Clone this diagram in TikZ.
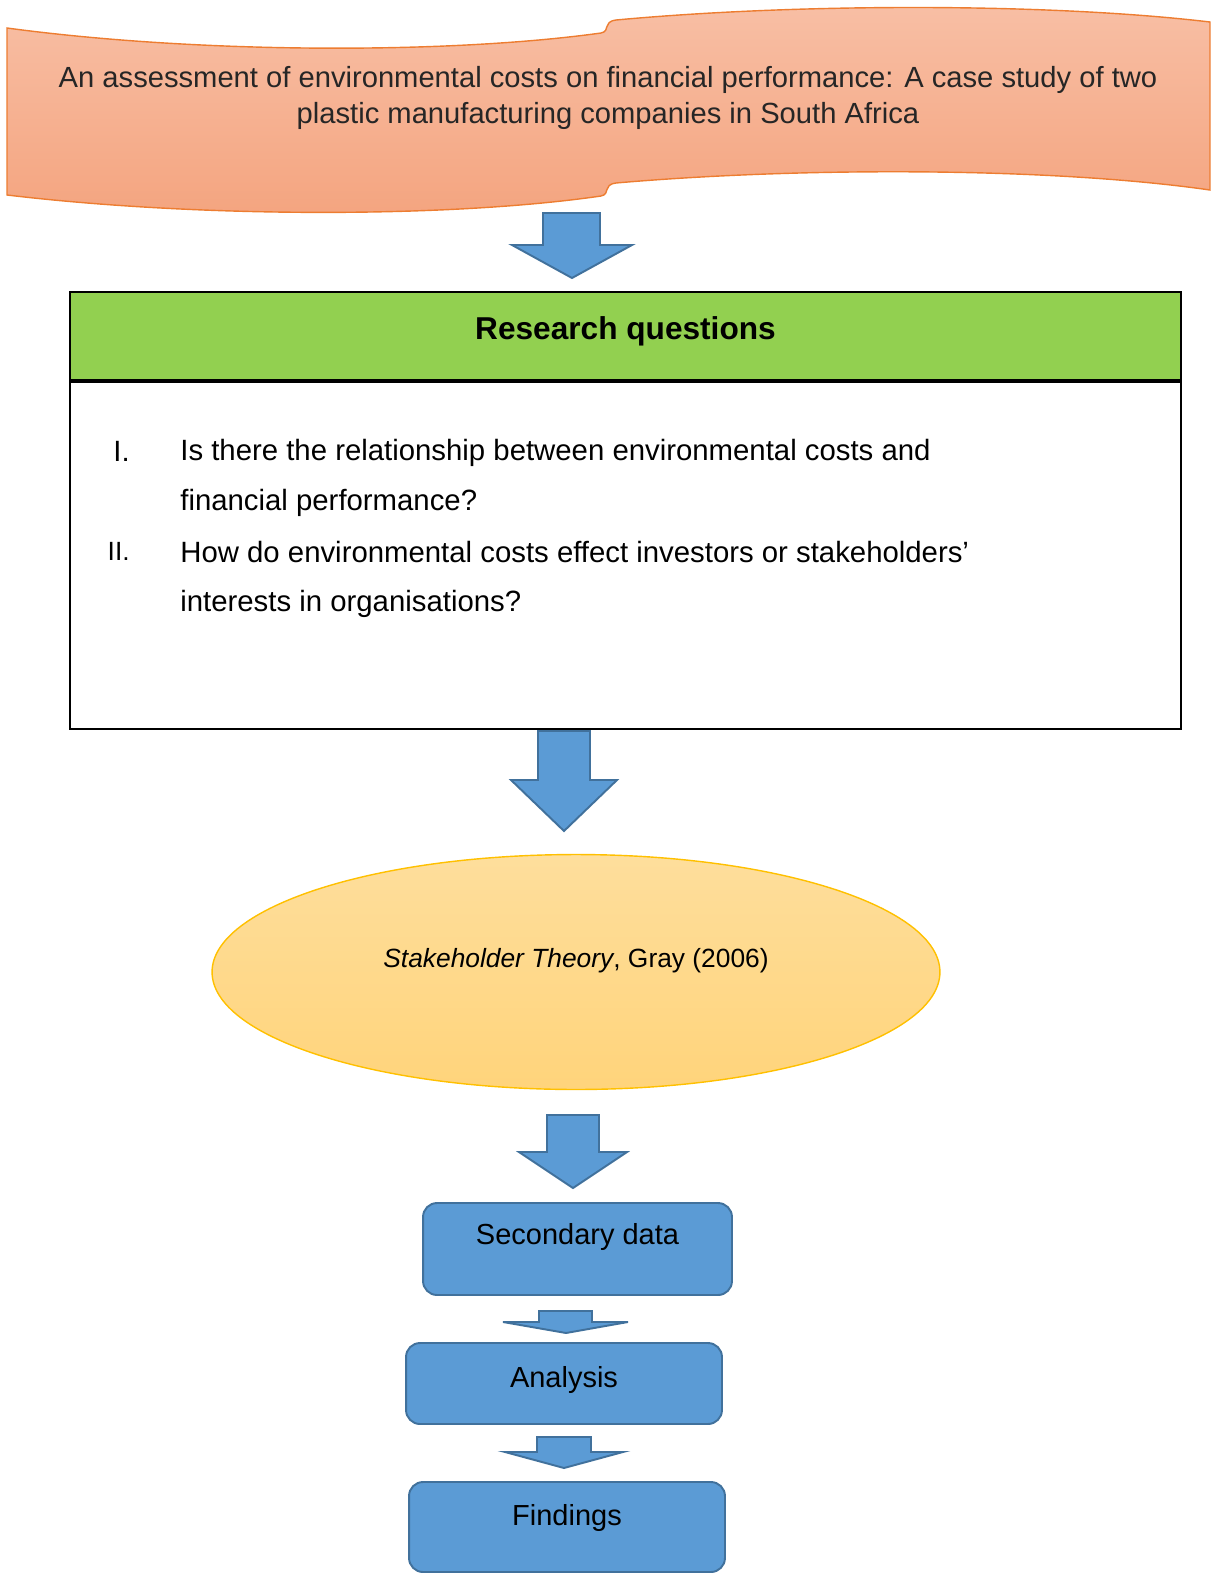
\documentclass[tikz,border=0pt]{standalone}
\usepackage{fontspec}
\setmainfont{Liberation Sans}
\usetikzlibrary{shapes.geometric}
\definecolor{bannertop}{HTML}{F8BFA5}
\definecolor{bannerbot}{HTML}{F4A47F}
\definecolor{bannerline}{HTML}{ED7D31}
\definecolor{bannertext}{HTML}{262626}
\definecolor{rqgreen}{HTML}{92D050}
\definecolor{elltop}{HTML}{FEDE9C}
\definecolor{ellbot}{HTML}{FFD47B}
\definecolor{ellline}{HTML}{FFC000}
\definecolor{boxblue}{HTML}{5B9BD5}
\definecolor{arrowline}{HTML}{41719C}
\begin{document}
\begin{tikzpicture}[x=0.02cm,y=-0.02cm,
  blockarrow/.style={draw=arrowline, fill=boxblue, line width=1.1pt},
  bluebox/.style={draw=arrowline, fill=boxblue, line width=1.1pt, rounded corners=0.28cm,
    font=\fontsize{16.5}{19}\selectfont, text height=12pt},
  qtext/.style={font=\fontsize{16.7}{28}\selectfont, align=left, inner xsep=0pt}]
\useasboundingbox (0,0) rectangle (1218,1573);
\draw[draw=bannerline, line width=0.8pt, top color=bannertop, bottom color=bannerbot]
  (7,28) .. controls (200,54) and (450,54) .. (601,33)
  .. controls (611,31) and (602,22) .. (616,20)
  .. controls (800,3) and (1050,3) .. (1210,22) -- (1210,190)
  .. controls (1050,167) and (800,167) .. (616,183)
  .. controls (602,185) and (611,194) .. (601,196)
  .. controls (450,218) and (200,218) .. (7,195) -- cycle;
\node[font=\fontsize{16.6}{20}\selectfont, text=bannertext, align=center] (title) at (608,98)
  {An assessment of environmental costs on financial performance: A case study of two\\
   plastic manufacturing companies in South Africa};
\node[draw, line width=1.1pt, fill=rqgreen, minimum width=22.22cm, minimum height=1.76cm,
  font=\bfseries\fontsize{18}{22}\selectfont, text height=13pt, text depth=9pt] (rqhead) at (625.5,336) {Research questions};
\node[draw, line width=1.1pt, minimum width=22.22cm, minimum height=6.94cm, anchor=north] (rqbody) at (rqhead.south) {};
\node[qtext, anchor=east] (num1) at (130,451) {I.};
\node[qtext, anchor=west] (quest1) at (180,478) {Is there the relationship between environmental costs and\\financial performance?};
\node[qtext, anchor=east, font=\fontsize{15}{28}\selectfont] (num2) at (130,551) {II.};
\node[qtext, anchor=west] (quest2) at (180,579) {How do environmental costs effect investors or stakeholders’\\interests in organisations?};
\node[ellipse, draw=ellline, line width=0.8pt, top color=elltop, bottom color=ellbot,
  minimum width=14.56cm, minimum height=4.7cm] (theory) at (576,972) {};
\node[font=\fontsize{15}{18}\selectfont] (theorytext) at (576,961) {\textit{Stakeholder Theory}, Gray (2006)};
\node[bluebox, minimum width=6.18cm, minimum height=1.84cm, text depth=17.4pt] (secdata) at (577.5,1249) {Secondary data};
\node[bluebox, minimum width=6.32cm, minimum height=1.62cm, text depth=7.6pt] (analysis) at (564,1383.5) {Analysis};
\node[bluebox, minimum width=6.32cm, minimum height=1.8cm, text depth=13.8pt] (findings) at (567,1527) {Findings};
\foreach \sl/\sr/\st/\hy/\hl/\hr/\tx/\ty in {543/600/213/245/512/632/572/278, 538/590/731/780/511/617/564/831,
  547/599/1115/1152/519/627/573/1188, 539/592/1311/1322/503/628/566/1333, 537/591/1437/1452/505/623/564/1468}
  \draw[blockarrow] (\sl,\st) -- (\sr,\st) -- (\sr,\hy) -- (\hr,\hy) -- (\tx,\ty) -- (\hl,\hy) -- (\sl,\hy) -- cycle;
\end{tikzpicture}
\end{document}
